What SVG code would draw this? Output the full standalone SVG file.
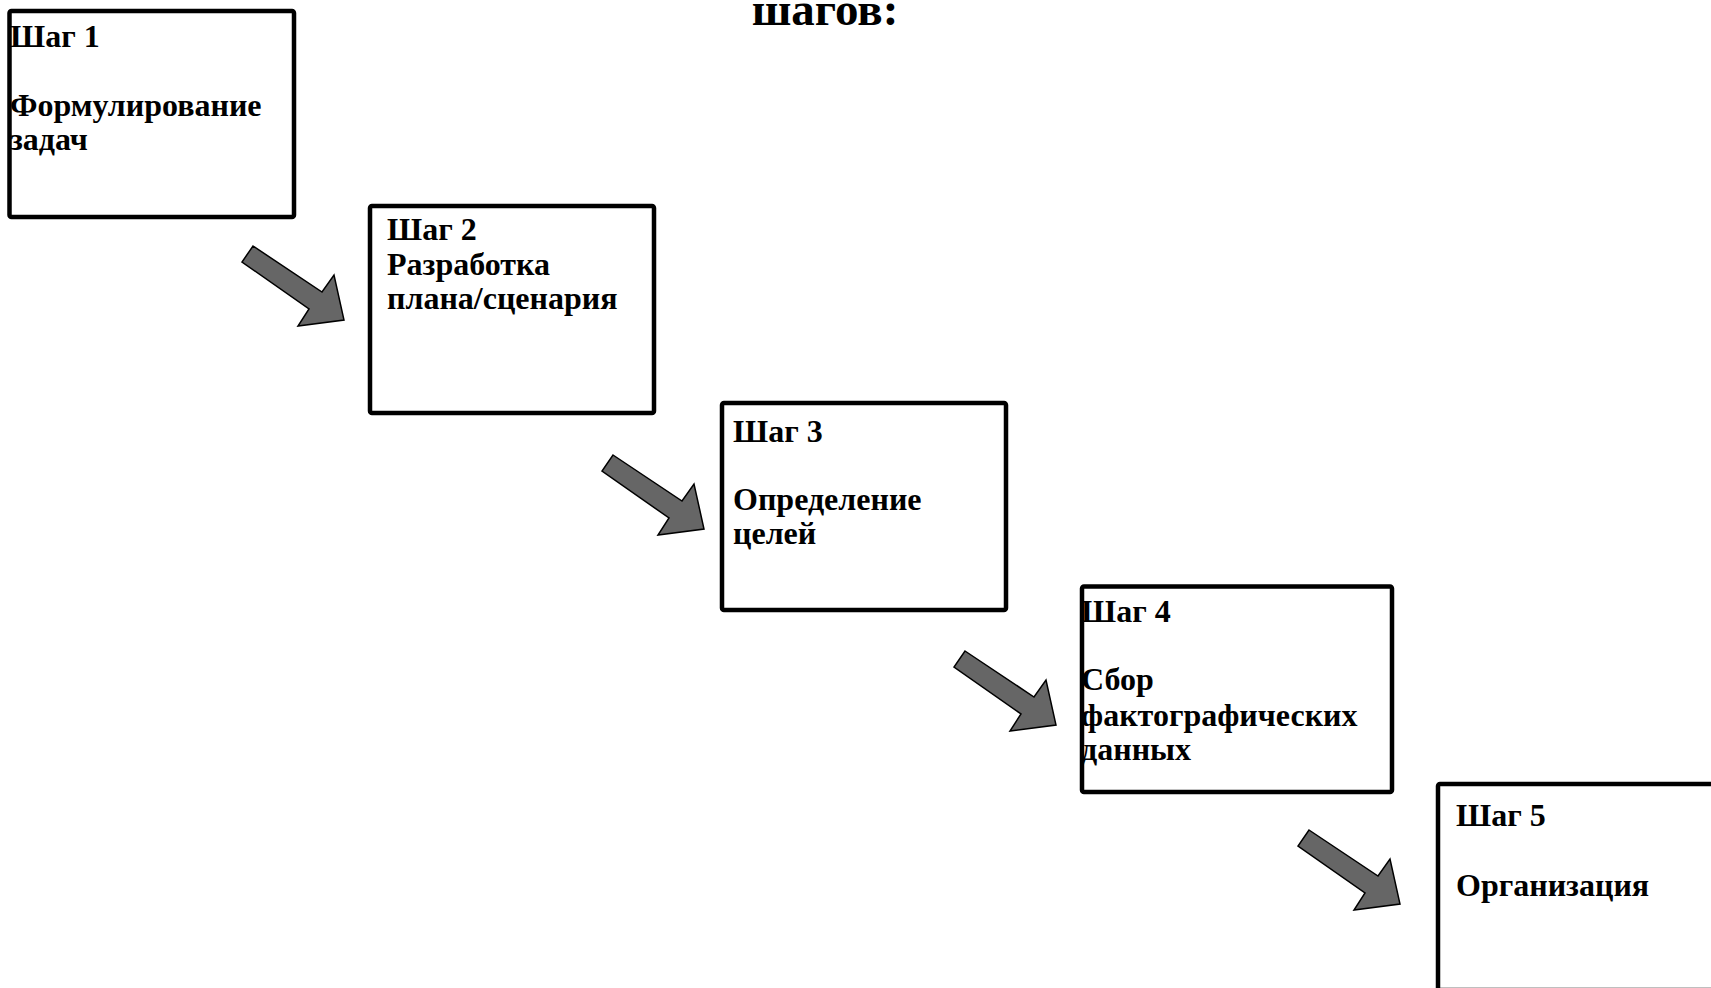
<svg xmlns="http://www.w3.org/2000/svg" xmlns:xlink="http://www.w3.org/1999/xlink" width="1711" height="988" viewBox="0 0 1711 988">
<style>
.box{fill:#ffffff;stroke:#000000;stroke-width:4.5;stroke-linejoin:round}
.t{font-family:"Liberation Serif","Times New Roman",serif;font-weight:bold;font-size:32px;fill:#000000}
.title{font-family:"Liberation Serif","Times New Roman",serif;font-weight:bold;font-size:47px;fill:#000000}
.arrow{fill:#666666;stroke:#000000;stroke-width:1.5;stroke-linejoin:miter}
</style>
<defs>
<polygon id="arr" class="arrow" points="253,246 322,292 334,275 344,320 298,326 309,309 242,262"/>
</defs>
<rect width="1711" height="988" fill="#ffffff"/>
<g id="title">
<text class="title" x="825" y="25" text-anchor="middle">шагов:</text>
</g>
<g id="step1">
<rect class="box" x="9.5" y="11" width="284.5" height="206" rx="2"/>
<text class="t" x="10" y="47">Шаг 1</text>
<text class="t" x="10" y="116">Формулирование</text>
<text class="t" x="10" y="150">задач</text>
</g>
<g id="step2">
<rect class="box" x="370" y="206" width="284" height="207" rx="2"/>
<text class="t" x="387" y="240">Шаг 2</text>
<text class="t" x="387" y="275">Разработка</text>
<text class="t" x="387" y="309">плана/сценария</text>
</g>
<g id="step3">
<rect class="box" x="722" y="403" width="284" height="207" rx="2"/>
<text class="t" x="733" y="442">Шаг 3</text>
<text class="t" x="733" y="510">Определение</text>
<text class="t" x="733" y="544">целей</text>
</g>
<g id="step4">
<rect class="box" x="1082" y="586.5" width="310" height="205.5" rx="2"/>
<text class="t" x="1081" y="622">Шаг 4</text>
<text class="t" x="1081" y="690">Сбор</text>
<text class="t" x="1081" y="726">фактографических</text>
<text class="t" x="1081" y="760">данных</text>
</g>
<g id="step5">
<rect class="box" x="1438" y="784" width="300" height="206" rx="2"/>
<text class="t" x="1456" y="826">Шаг 5</text>
<text class="t" x="1456" y="896">Организация</text>
</g>
<g id="connectors">
<use xlink:href="#arr"/>
<use xlink:href="#arr" transform="translate(360,209)"/>
<use xlink:href="#arr" transform="translate(712,405)"/>
<use xlink:href="#arr" transform="translate(1056,584)"/>
</g>
</svg>
